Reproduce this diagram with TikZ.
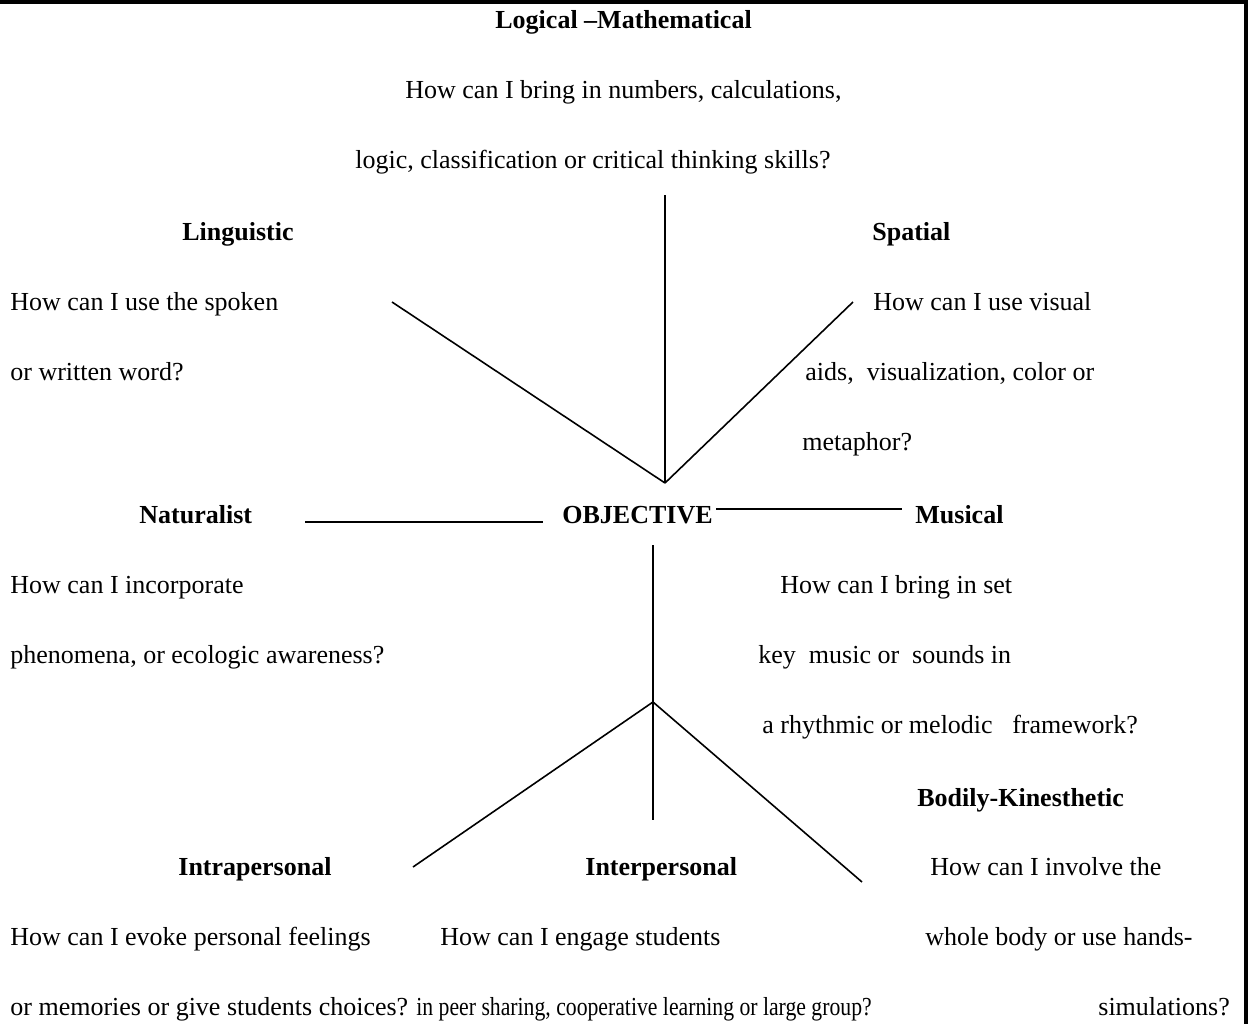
\documentclass[tikz,border=0pt]{standalone}
\usepackage{fontspec}
\setmainfont{Liberation Serif}

\begin{document}
\begin{tikzpicture}[x=0.5pt,y=-0.5pt,
    intelligence/.style ={inner sep=0pt, anchor=base west, font=\fontsize{13}{15}\selectfont\bfseries},
    question/.style ={inner sep=0pt, anchor=base west, font=\fontsize{13}{15}\selectfont},
    branch/.style ={line width=0.8pt}]
   \useasboundingbox (0,0) rectangle (1250,1024);
   \draw[line width=1.6pt] (0,2) -- (1246,2) -- (1246,1024);

   % upper part
   \node[intelligence] (logic) at (495,28) {Logical --Mathematical};
   \node[question] (logicA) at (405,98) {How can I bring in numbers, calculations,};
   \node[question] (logicB) at (355,168) {logic, classification or critical thinking skills?};
   \node[intelligence] (ling) at (182,240) {Linguistic};
   \node[question] (lingA) at (10,310) {How can I use the spoken};
   \node[question] (lingB) at (10,380) {or written word?};
   \node[intelligence] (spat) at (872,240) {Spatial};
   \node[question] (spatA) at (873,310) {How can I use visual};
   \node[question] (spatB) at (805,380) {aids,\ \ visualization, color or};
   \node[question] (spatC) at (802,450) {metaphor?};

   % middle row
   \node[intelligence] (nat) at (139,523) {Naturalist};
   \node[intelligence] (obj) at (562,523) {OBJECTIVE};
   \node[intelligence] (mus) at (915,523) {Musical};
   \node[question] (natA) at (10,593) {How can I incorporate};
   \node[question] (natB) at (10,663) {phenomena, or ecologic awareness?};
   \node[question] (musA) at (780,593) {How can I bring in set};
   \node[question] (musB) at (758,663) {key\ \ music or\ \ sounds in};
   \node[question] (musC) at (762,733) {a rhythmic or melodic\ \ \ framework?};

   % lower part
   \node[intelligence] (body) at (917,806) {Bodily-Kinesthetic};
   \node[intelligence] (intra) at (178,875) {Intrapersonal};
   \node[intelligence] (inter) at (585,875) {Interpersonal};
   \node[question] (bodyA) at (930,875) {How can I involve the};
   \node[question] (intraA) at (10,945) {How can I evoke personal feelings};
   \node[question] (interA) at (440,945) {How can I engage students};
   \node[question] (bodyB) at (925,945) {whole body or use hands-};
   \node[question] (intraB) at (10,1015) {or memories or give students choices?};
   \node[question] (interB) at (416,1015) {\scalebox{0.835}[1]{in peer sharing, cooperative learning or large group?}};
   \node[question] (bodyC) at (1098,1015) {simulations?};

   % branch ends
   \coordinate (up) at (665,483);
   \coordinate (upN) at (665,195);
   \coordinate (upW) at (392,302);
   \coordinate (upE) at (853,302);
   \coordinate (natL) at (305,522);
   \coordinate (natR) at (543,522);
   \coordinate (musL) at (716,509);
   \coordinate (musR) at (902,509);
   \coordinate (low) at (653,702);
   \coordinate (lowN) at (653,545);
   \coordinate (lowS) at (653,820);
   \coordinate (lowW) at (413,867);
   \coordinate (lowE) at (862,882);

   \draw[branch] (up) to (upN);
   \draw[branch] (up) to (upW);
   \draw[branch] (up) to (upE);
   \draw[branch] (natL) to (natR);
   \draw[branch] (musL) to (musR);
   \draw[branch] (low) to (lowN);
   \draw[branch] (low) to (lowS);
   \draw[branch] (low) to (lowW);
   \draw[branch] (low) to (lowE);
\end{tikzpicture}
\end{document}
